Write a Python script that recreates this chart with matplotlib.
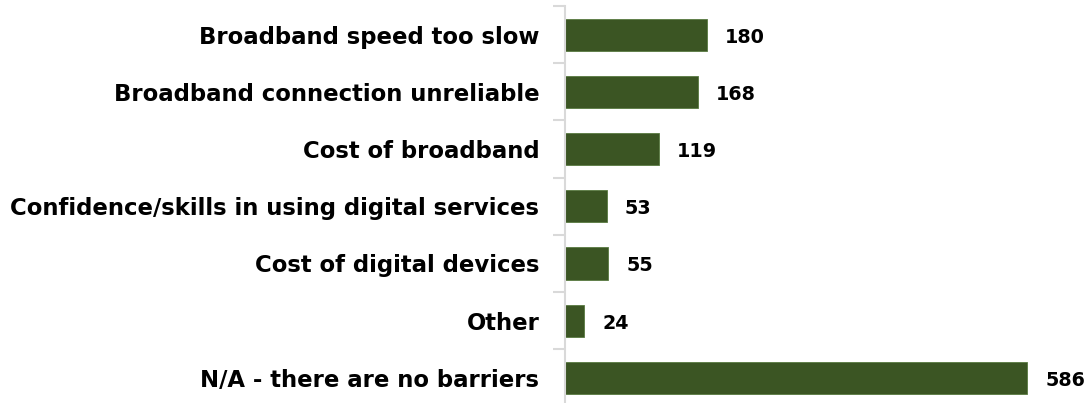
import matplotlib.pyplot as plt
import numpy as np

categories = [
    'Broadband speed too slow',
    'Broadband connection unreliable',
    'Cost of broadband',
    'Confidence/skills in using digital services',
    'Cost of digital devices',
    'Other',
    'N/A - there are no barriers',
]
counts = [180, 168, 119, 53, 55, 24, 586]

bar_color = '#3b5523'
axis_grey = '#d9d9d9'

fig = plt.figure(figsize=(10.91, 4.03), dpi=100)
ax = fig.add_axes([0.518, -0.0087, 0.482, 0.9937])

y = np.arange(len(categories))
ax.barh(y, counts, height=0.56, color=bar_color, edgecolor='#587a40', linewidth=0.6)

ax.set_ylim(len(categories) - 0.5, -0.5)
ax.set_xlim(0, 667)

ax.set_yticks(y)
ax.set_yticklabels(categories, fontsize=16.4, fontweight='bold', family='DejaVu Sans')
ax.tick_params(axis='y', which='major', length=0, pad=18.5)
ax.set_yticks(np.arange(-0.5, len(categories), 1), minor=True)
ax.tick_params(axis='y', which='minor', length=9, width=1.5, color=axis_grey)

ax.set_xticks([])
for side in ['top', 'right', 'bottom']:
    ax.spines[side].set_visible(False)
ax.spines['left'].set_color(axis_grey)
ax.spines['left'].set_linewidth(1.5)

# value labels just right of each bar end
for yi, v in zip(y, counts):
    ax.annotate(str(v), (v, yi), xytext=(13, -1.8), textcoords='offset points',
                va='center', ha='left', fontsize=13.8, fontweight='bold',
                family='DejaVu Sans')

fig.savefig('out.png', dpi=100)
